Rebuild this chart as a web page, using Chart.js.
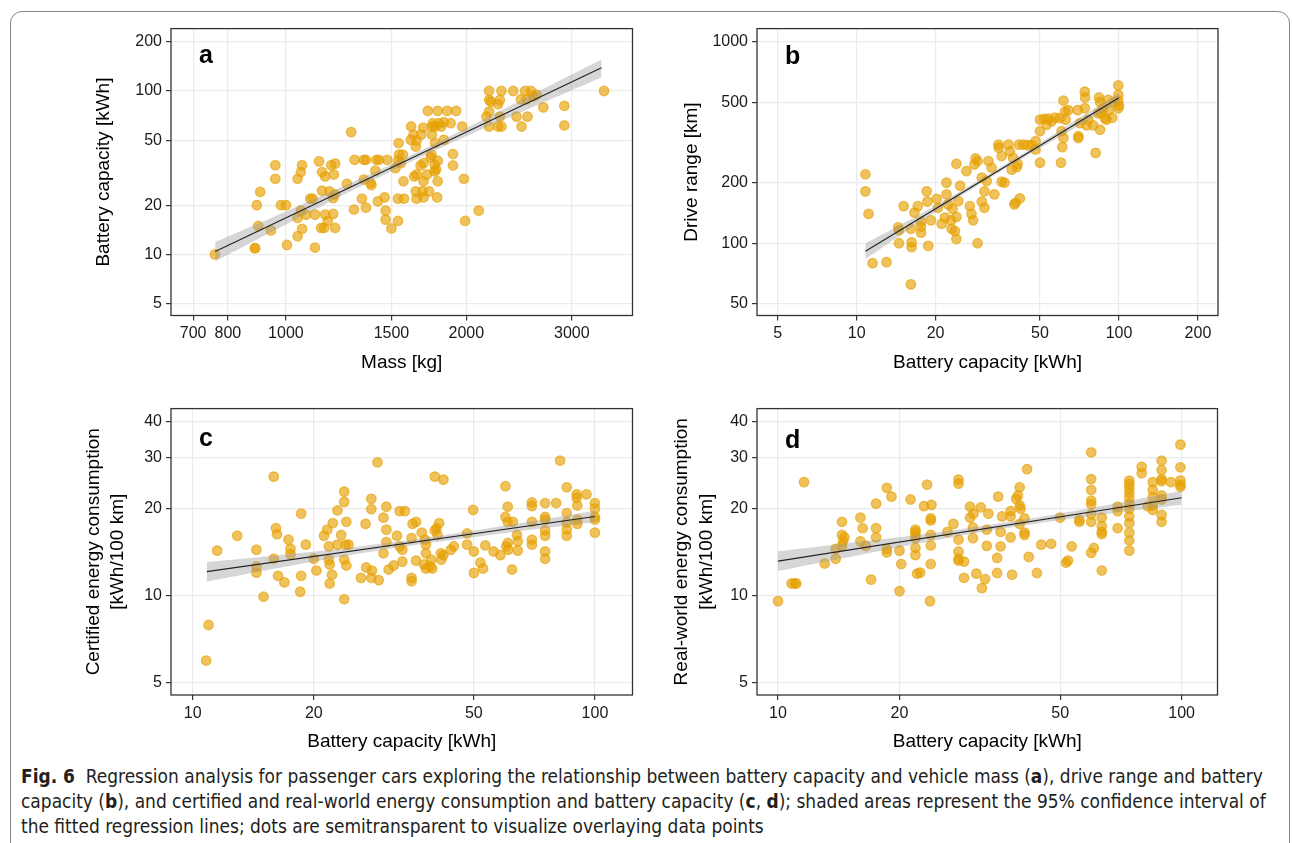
<!DOCTYPE html>
<html><head><meta charset="utf-8">
<script src="https://cdn.jsdelivr.net/npm/chart.js@4.4.1/dist/chart.umd.min.js"></script>
<style>
html,body{margin:0;padding:0;background:#fff;width:1293px;height:843px;overflow:hidden;position:relative;}
#frame{position:absolute;left:10px;top:11px;width:1280px;height:900px;border:1.5px solid #858585;border-radius:12px;box-sizing:border-box;}
canvas{position:absolute;}
#caption{position:absolute;left:21px;top:764px;font-family:"Liberation Sans Narrow","DejaVu Sans Condensed","Liberation Sans",Arial,sans-serif;font-size:20px;line-height:25px;color:#231f20;}
#caption .ln{white-space:nowrap;}
</style></head><body>
<div id="frame"></div>
<canvas id="ca" width="570" height="365" style="left:80px;top:15px"></canvas>
<canvas id="cb" width="563" height="365" style="left:665px;top:15px"></canvas>
<canvas id="cc" width="580" height="365" style="left:70px;top:395px"></canvas>
<canvas id="cd" width="573" height="365" style="left:655px;top:395px"></canvas>
<div id="caption">
<div class="ln"><span id="l1"><b>Fig. 6</b>&nbsp;&nbsp;Regression analysis for passenger cars exploring the relationship between battery capacity and vehicle mass (<b>a</b>), drive range and battery</span></div>
<div class="ln"><span>capacity (<b>b</b>), and certified and real-world energy consumption and battery capacity (<b>c</b>, <b>d</b>); shaded areas represent the 95% confidence interval of</span></div>
<div class="ln"><span>the fitted regression lines; dots are semitransparent to visualize overlaying data points</span></div>
</div>
<script>
// ---------- Panel a: battery capacity vs mass ----------
const massA = [761,888,888,894,906,899,944,960,960,981,1000,1004,1046,1064,1059,1046,1064,1046,1080,1098,1108,1059,1118,1118,1136,1149,1163,1190,1208,1202,1149,1182,1199,1207,1163,1174,1199,1145,1158,1208,1264,1285,1299,1302,1349,1360,1416,1430,1476,1339,1360,1349,1384,1389,1410,1424,1461,1467,1467,1500,1538,1542,1545,1538,1538,1523,
1555,1567,1571,1574,1618,1616,1633,1647,1652,1682,1695,1725,1754,1758,1774,1792,1801,1815,1835,1858,1883,1924,1969,1752,1774,1835,1749,1745,1792,1771,1781,1771,1697,1678,1652,1637,1719,1697,1792,1647,1690,1734,1652,1697,1788,1900,1900,1982,1991,2098,2183,2183,2198,2183,2183,2160,2275,2289,2260,2275,2260,2289,2395,2426,2467,2473,2507,2521,2530,2564,2587,2620,2689,2915,2915,3396];
const batteryA = [10,10.9,10.9,20,24.1,14.9,14,35.1,29,20,20,11.4,29,35.1,31.9,16.7,14.3,12.9,17.5,21.9,21.9,18.5,17.5,11,37.1,31.9,30,35.1,35.9,30.8,24.5,24.3,22.1,23.3,17.5,16,17.7,14.5,14.5,14.5,27,56,18.8,37.9,37.9,37.9,37.9,37.9,37.9,21.9,19.3,28.7,27.4,26.5,32.5,21.1,22.3,18.5,16.3,14.4,16,48,40.8,37.4,21.9,33.7,
36.2,40.8,28,21.9,60.6,50.2,54,45.7,49.6,54,59.6,75.5,60.6,63.5,60.6,75.5,63.5,60.6,64.4,75.5,63.5,75.5,60.6,54,48,50.2,40.8,39.2,37.4,35.4,33,32.2,36.2,35,30.8,30,30.8,28,28,24.3,24.3,24.3,21.9,22.3,22.3,41.1,35,29,16,18.5,100,88.1,86.1,74.8,60.6,69.7,88,100,83,69.7,60.6,60.6,100,69.7,88.9,60.6,100,88.9,69.7,100,92.3,95,79.4,81,61.5,100];
const fitAx = [762, 3363];
const fitAy = [10.4, 138.7];
const bandAx = [762, 1000, 1300, 1600, 2000, 2600, 3363];
const bandAlo = [9.03, 15.2, 24.9, 36.2, 52.8, 80.6, 121];
const bandAhi = [11.9, 18.3, 28.0, 39.7, 59.3, 96.9, 156];
const ticksAx = [700, 800, 1000, 1500, 2000, 3000];
const ticksAy = [5, 10, 20, 50, 100, 200];

// ---------- Panel b: drive range vs battery capacity ----------
const capB = [10.8,10.8,11.1,11.5,13.0,16.1,14.5,14.4,14.5,15.1,16.2,16.2,16.1,16.6,17.1,17.6,17.6,17.6,18.5,18.6,18.75,19.2,20.2,20.4,21.1,21.7,22,22,22.3,22.9,23,23.7,24,24,23.2,24.4,24.8,24,26.2,27,27.4,27.8,28.1,28.4,28.9,28.9,30,30.7,30,30.7,31.3,31.8,32.7,33.5,34.7,34.8,35.7,35.7,36.6,37.9,38.4,39,39.9,40.4,39.5,41.1,40.8,41.9,41.6,43.2,44.9,46.5,48.1,48.1,50,50,50,51.9,53,53.8,55.3,57,59.6,60.1,60.8,61.4,61.4,62.3,62.6,60.4,64.1,69.6,70,70,71,74.1,74.3,74.1,75.3,76.4,79.8,81.5,83.9,84.7,84.7,85.3,87.1,88.4,89.7,91.5,94.3,95.9,99.4,99.4,99.4,100,99.4,91,83.4];
const rangeB = [220,181,140,79.6,80.6,62.5,100,120,116,153,101,95.6,118,142,153,128,121,113,181,161,97,130,166,150,125,134,200,175,156,130,118,115,105,135,148,162,193,248,228,153,140,130,246,264,100,256,212,181,161,150,204,256,237,175,309,298,271,202,200,309,286,232,156,159,265,248,239,167,309,309,307,307,292,321,251,411,360,415,388,415,403,420,418,251,300,333,510,451,411,360,458,458,340,333,395,566,529,468,385,411,385,281,529,502,366,442,468,418,411,458,420,502,607,545,510,483,468,515,442];
const fitBx = [10.8, 100];
const fitBy = [91.3, 528];
const bandBx = [10.8, 15, 25, 40, 65, 100];
const bandBlo = [83.6, 111.6, 172, 250.6, 361, 498];
const bandBhi = [99.7, 125.2, 182, 262.4, 391, 559];
const ticksBx = [5, 10, 20, 50, 100, 200];
const ticksBy = [50, 100, 200, 500, 1000];

// ---------- Panel c: certified consumption vs battery capacity ----------
const capC = [10.8,10.95,11.5,12.9,14.4,14.4,14.4,15,15.9,16.1,16.2,15.9,16.3,16.9,17.3,17.5,17.5,18.6,18.6,18.5,19.1,20,20.3,21.2,21.6,22.3,21.8,21.8,21.9,22.2,21.9,22.9,22.9,23.4,23.8,23.8,24.1,23.8,24.1,24,24.4,23.8,26.2,26.9,27,27.8,27.8,27.9,27.8,29,28.8,30.3,29.8,30.3,30.3,29.8,30.7,31.6,32.2,32.7,32.7,
33.7,33.2,33.2,35,35.2,35.9,35,35,35.9,37.1,37.8,38,38,37.6,38,38.9,39.4,39.2,40,42,40,40.4,41,40.6,41.4,42,41.5,43.8,44.6,48.1,48.1,49.8,50,50,51.9,52.7,53.4,56,58.2,59.9,60.7,59.9,60.7,60.2,60.7,60.9,62.2,62.5,64,64.3,64.3,69.7,69.7,69.7,69.7,69.7,75.2,75.2,75.2,75.2,75.2,75.2,75.2,80.1,81.9,85.1,85.1,85.1,85.1,85.1,90.1,90.1,90.4,90.4,90.4,95.3,100,100,100,100,100];
const consC = [5.95,7.9,14.3,16.1,14.4,12.6,12,9.9,25.8,17.1,16.3,13.4,11.7,11.1,15.6,14.5,13.9,19.2,11.7,10.3,15,13.4,12.2,16.1,16.9,17.8,14.8,13.3,12.8,11.8,11,19.7,15,16.2,21.1,22.9,18,13.3,12.7,15,15,9.7,11.5,17.7,12.5,21.6,19.9,12.2,11.5,11.3,28.9,20.3,18.6,16.9,15.3,14,12.3,12.7,16.1,19.6,14.8,
19.6,14.4,13.1,15.8,17.7,18,11.5,11.2,13.2,16.5,15.6,15,14,12.8,12.4,12.6,12.4,13.3,25.8,25.2,16.8,17.1,17.8,16.2,14,13.8,13.3,14.4,14.8,16.4,15,19.8,14.2,11.97,13,12.4,14.9,14.2,13.8,23.9,20.3,18.7,18,14.8,15.2,14.4,12.3,18,16.2,15.4,14.3,21,20.4,18,15.6,15,20.9,18.7,18.3,16.8,16.1,14.2,13.4,20.9,29.3,23.7,19.3,17.9,16.9,16.1,22.4,21.8,20.5,17.7,18.3,22.4,20.9,20,18.7,18.3,16.5];
const fitCx = [10.84, 100];
const fitCy = [12.09, 18.78];
const bandCx = [10.84, 15, 25, 40, 65, 100];
const bandClo = [11.18, 12.19, 13.85, 15.29, 16.7, 17.93];
const bandChi = [13.07, 13.63, 14.7, 16.02, 17.8, 19.66];
const ticksCx = [10, 20, 50, 100];
const ticksCy = [5, 10, 20, 30, 40];

// ---------- Panel d: real-world consumption vs battery capacity ----------
const capD = [10,10.8,11,11.1,11.6,13.05,13.9,13.9,14.4,14.4,14.6,14.5,14.4,16,16.2,16,16.5,17,17.5,17.5,17.5,18.6,19.1,18.6,18.6,20,20,20.2,21.3,21.9,21.9,21.9,21.9,21.9,22.1,22.5,21.9,23,23.4,24,23.9,23.9,23.9,23.9,23.9,23.8,26.3,27.2,28,28,28,28,28,28,28.9,28.9,29.9,29.9,30.5,30.4,30.4,31,31.8,32,32.6,32.9,32.9,
33.2,34.9,34.9,35.1,35.6,35.6,35.9,37.7,37.7,37.7,38,38.9,39.3,39.7,39.7,39.9,39.7,40.8,40.8,40.8,41.4,41.8,43.8,44.9,47.5,50,51.7,52.3,53.4,55.8,55.8,59.7,59.7,59.7,59.7,59.7,59.7,59.7,60.6,59.7,63.4,63.4,63.4,63.4,63.4,69.4,69.4,69.4,
74.2,74.2,74.2,74.2,74.2,74.2,74.2,74.2,74.2,74.2,74.2,74.2,79.6,79.6,82.4,84.8,84.8,84.8,84.8,84.8,89.2,89.2,89.2,89.2,89.2,89.2,89.2,89.2,94.1,99.3,99.3,99.3,99.3,99.3];
const consD = [9.56,11,11,11,24.7,12.9,13.4,14.5,18,16.2,15.9,15.4,14.85,18.6,17.1,15.4,14.85,11.35,20.8,17.1,15.9,23.6,22,14.5,14.1,14.3,10.35,12.85,21.5,16.6,16.9,16.2,14.6,13.8,11.9,12.0,15.8,20.4,24.2,20.6,18.5,18.2,16.2,14.9,12.85,9.56,16.6,17.7,25.2,24.4,15.6,14.2,13.4,13.2,13.1,11.5,20.3,18.6,19.2,17.2,15.8,11.9,20.2,10.6,11.4,16.9,14.85,
19.2,13.5,11.96,22,16.6,14.8,18.8,19.6,18.8,15.9,11.8,21.6,22.2,23.7,20.5,20,17.7,18.5,16.5,16.2,27.4,13.6,11.96,15,15.1,18.6,13,13.2,14.8,18.3,18,31.3,25.3,23.2,21.3,20.7,19.1,18,14.6,14.05,18.6,17.4,16.6,16.3,12.2,20.3,19.6,17.1,
25,24.3,23.5,22.7,21.8,20.8,20,18.8,17.8,16.5,15.5,14.3,27.9,26.5,20.4,24.7,23.2,21.9,20.5,19.8,29.3,27.2,25.3,24.9,22.2,21.5,19.0,18,24.7,33.3,27.8,25,24.2,23.8];
const fitDx = [10, 100];
const fitDy = [13.15, 21.8];
const bandDx = [10, 15, 25, 40, 65, 100];
const bandDlo = [12.16, 13.6, 15.6, 17.43, 19.17, 20.6];
const bandDhi = [14.22, 15.2, 16.57, 18.25, 20.54, 23.04];
const ticksDx = [10, 20, 50, 100];
const ticksDy = [5, 10, 20, 30, 40];

// ---------- drawing ----------
const FONT = '"Liberation Sans", Arial, Helvetica, sans-serif';
const zip = (xs, ys) => xs.slice(0, Math.min(xs.length, ys.length)).map((x, i) => ({x: x, y: ys[i]}));

const panelPlugin = {
  id: 'panel',
  afterDraw(chart, args, opts) {
    const ctx = chart.ctx, a = chart.chartArea;
    ctx.save();
    ctx.strokeStyle = '#333333';
    ctx.lineWidth = 1.3;
    ctx.strokeRect(a.left, a.top, a.right - a.left, a.bottom - a.top);
    ctx.fillStyle = '#000';
    ctx.font = 'bold 25px ' + FONT;
    ctx.textAlign = 'left';
    ctx.textBaseline = 'alphabetic';
    ctx.fillText(opts.letter, a.left + 28, a.top + opts.dy);
    ctx.restore();
  }
};

function makeChart(id, o) {
  const tickFont = {family: FONT, size: 16};
  const titleFont = {family: FONT, size: 19, lineHeight: 1.3};
  const grid = {color: '#ebebeb', lineWidth: 1.2, tickColor: '#333333', tickLength: 5, tickWidth: 1.2, drawTicks: true};
  new Chart(document.getElementById(id), {
    type: 'scatter',
    data: {datasets: [
      {type: 'line', data: zip(o.fitX, o.fitY), borderColor: '#222222', borderWidth: 1.1, pointRadius: 0, fill: false, tension: 0, order: 0},
      {type: 'line', data: zip(o.bandX, o.bandLo), borderColor: 'rgba(0,0,0,0)', borderWidth: 0, pointRadius: 0, fill: false, tension: 0.3, order: 1},
      {type: 'line', data: zip(o.bandX, o.bandHi), borderColor: 'rgba(0,0,0,0)', borderWidth: 0, pointRadius: 0, fill: 1, backgroundColor: 'rgba(153,153,153,0.4)', tension: 0.3, order: 2},
      {data: zip(o.xs, o.ys), pointRadius: 4.8, pointBorderWidth: 1.2, backgroundColor: 'rgba(230,159,0,0.64)', borderColor: 'rgba(230,159,0,0.64)', order: 3}
    ]},
    options: {
      responsive: false, animation: false, events: [], devicePixelRatio: 1,
      layout: {padding: {left: 0, top: o.padTop, right: o.padRight, bottom: 0}},
      plugins: {legend: {display: false}, tooltip: {enabled: false}, panel: {letter: o.letter, dy: o.letterDy}},
      scales: {
        x: {
          type: 'logarithmic', position: 'bottom', min: o.xMin, max: o.xMax,
          afterBuildTicks: ax => { ax.ticks = o.xTicks.map(v => ({value: v})); },
          afterFit: ax => { ax.height = o.xAxisH; },
          ticks: {autoSkip: false, maxRotation: 0, minRotation: 0, padding: o.xTickPad, color: '#1a1a1a', font: tickFont, callback: v => String(v)},
          grid: grid, border: {display: false},
          title: {display: true, text: o.xTitle, color: '#000', font: titleFont, padding: {top: 0, bottom: o.xTitlePad}}
        },
        y: {
          type: 'logarithmic', position: 'left', min: o.yMin, max: o.yMax,
          afterBuildTicks: ax => { ax.ticks = o.yTicks.map(v => ({value: v})); },
          afterFit: ax => { ax.width = o.yAxisW; },
          ticks: {autoSkip: false, padding: 4, color: '#1a1a1a', font: tickFont, callback: v => String(v)},
          grid: grid, border: {display: false},
          title: {display: true, text: o.yTitle, color: '#000', font: titleFont, padding: {top: o.yTitlePad, bottom: 0}}
        }
      }
    },
    plugins: [panelPlugin]
  });
}

makeChart('ca', {xs: massA, ys: batteryA, fitX: fitAx, fitY: fitAy, bandX: bandAx, bandLo: bandAlo, bandHi: bandAhi,
  xMin: 643, xMax: 3788, yMin: 4.22, yMax: 241, xTicks: ticksAx, yTicks: ticksAy,
  xTitle: 'Mass [kg]', yTitle: 'Battery capacity [kWh]', letter: 'a', letterDy: 34,
  padTop: 12, padRight: 17.5, yAxisW: 91, xAxisH: 64.5, xTickPad: 3.2, xTitlePad: 4.6, yTitlePad: 11.2});

makeChart('cb', {xs: capB, ys: rangeB, fitX: fitBx, fitY: fitBy, bandX: bandBx, bandLo: bandBlo, bandHi: bandBhi,
  xMin: 4.17, xMax: 238.5, yMin: 43.8, yMax: 1163, xTicks: ticksBx, yTicks: ticksBy,
  xTitle: 'Battery capacity [kWh]', yTitle: 'Drive range [km]', letter: 'b', letterDy: 35.5,
  padTop: 12, padRight: 10, yAxisW: 92, xAxisH: 64.5, xTickPad: 3.2, xTitlePad: 4.6, yTitlePad: 14.6});

makeChart('cc', {xs: capC, ys: consC, fitX: fitCx, fitY: fitCy, bandX: bandCx, bandLo: bandClo, bandHi: bandChi,
  xMin: 8.83, xMax: 124, yMin: 4.52, yMax: 44.4, xTicks: ticksCx, yTicks: ticksCy,
  xTitle: 'Battery capacity [kWh]', yTitle: ['Certified energy consumption', '[kWh/100 km]'], letter: 'c', letterDy: 37,
  padTop: 10, padRight: 17.5, yAxisW: 101, xAxisH: 65, xTickPad: 3.5, xTitlePad: 5.9, yTitlePad: 11});

makeChart('cd', {xs: capD, ys: consD, fitX: fitDx, fitY: fitDy, bandX: bandDx, bandLo: bandDlo, bandHi: bandDhi,
  xMin: 8.87, xMax: 122.7, yMin: 4.52, yMax: 44.4, xTicks: ticksDx, yTicks: ticksDy,
  xTitle: 'Battery capacity [kWh]', yTitle: ['Real-world energy consumption', '[kWh/100 km]'], letter: 'd', letterDy: 39,
  padTop: 10, padRight: 10.5, yAxisW: 102, xAxisH: 65, xTickPad: 3.5, xTitlePad: 5.9, yTitlePad: 14.6});

// caption: fit first line width to the figure width
(function () {
  const cap = document.getElementById('caption');
  const l1 = document.getElementById('l1');
  const w = l1.getBoundingClientRect().width;
  if (w > 0) cap.style.fontSize = (20 * 1243 / w).toFixed(2) + 'px';
})();
</script>
</body></html>
